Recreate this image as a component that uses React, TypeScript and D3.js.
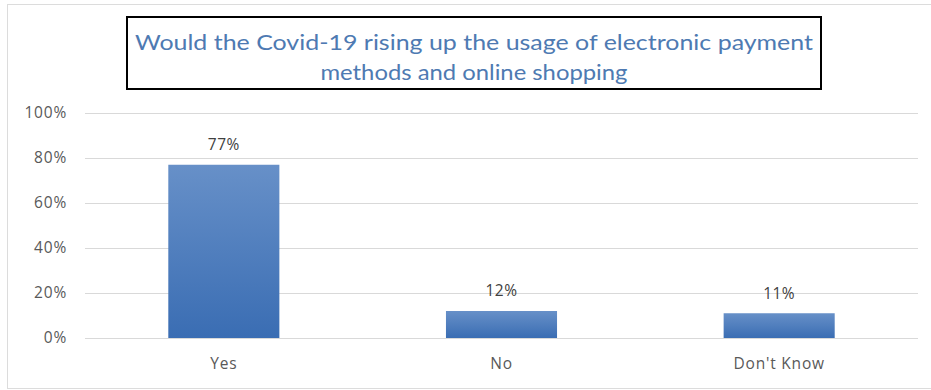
import React from "react";
import * as d3 from "d3";

const categories = ["Yes", "No", "Don't Know"];
const values = [77, 12, 11];
const yTicks = [0, 20, 40, 60, 80, 100];
const titleLines = [
  "Would the Covid-19 rising up the usage of electronic payment",
  "methods and online shopping",
];

const W = 931;
const H = 390;
const left = 85;
const right = 918;
const top = 113;
const bottom = 338;

export default function App() {
  const x = d3.scaleBand<string>().domain(categories).range([left, right]).paddingInner(0).paddingOuter(0);
  const y = d3.scaleLinear().domain([0, 100]).range([bottom, top]);
  const bw = x.bandwidth() * 0.4;
  const axisFont = "'Open Sans', 'DejaVu Sans', sans-serif";
  return (
    <svg width={W} height={H} style={{ position: "absolute", left: 0, top: 0 }}>
      <defs>
        <linearGradient id="barGrad" x1="0" y1="0" x2="0" y2="1">
          <stop offset="0%" stopColor="#6790c8" />
          <stop offset="100%" stopColor="#3a6db3" />
        </linearGradient>
      </defs>
      <rect x={0} y={0} width={W} height={H} fill="#fff" />
      <rect x={7.5} y={4.5} width={W - 4} height={H - 6} fill="#fff" stroke="#dcdcdc" strokeWidth={1} />
      {yTicks.map((t) => (
        <g key={t}>
          <line x1={left} x2={right} y1={y(t) + 0.5} y2={y(t) + 0.5} stroke="#d9d9d9" strokeWidth={1} />
          <text x={67} y={y(t)} dy="0.35em" textAnchor="end" fontSize={15.5} letterSpacing={0.8} fill="#595959" fontFamily={axisFont}>
            {t}%
          </text>
        </g>
      ))}
      {categories.map((c, i) => {
        const cx = (x(c) as number) + x.bandwidth() / 2;
        return (
          <g key={c}>
            <rect x={cx - bw / 2} y={y(values[i])} width={bw} height={y(0) - y(values[i])} fill="url(#barGrad)" />
            <text x={cx} y={y(values[i]) - 20} dy="0.35em" textAnchor="middle" fontSize={15.5} letterSpacing={0.5} fill="#404040" fontFamily={axisFont}>
              {values[i]}%
            </text>
            <text x={cx} y={364} dy="0.35em" textAnchor="middle" fontSize={15.5} letterSpacing={0.8} fill="#595959" fontFamily={axisFont}>
              {c}
            </text>
          </g>
        );
      })}
      <rect x={127} y={17} width={694} height={72} fill="#fff" stroke="#000" strokeWidth={2} />
      <text x={474} y={42} dy="0.35em" textAnchor="middle" fontSize={22} fill="#4e7ab2" fontFamily="'Lato', sans-serif" textLength={678} lengthAdjust="spacingAndGlyphs">
        {titleLines[0]}
      </text>
      <text x={474} y={72} dy="0.35em" textAnchor="middle" fontSize={22} fill="#4e7ab2" fontFamily="'Lato', sans-serif" textLength={307} lengthAdjust="spacingAndGlyphs">
        {titleLines[1]}
      </text>
    </svg>
  );
}
